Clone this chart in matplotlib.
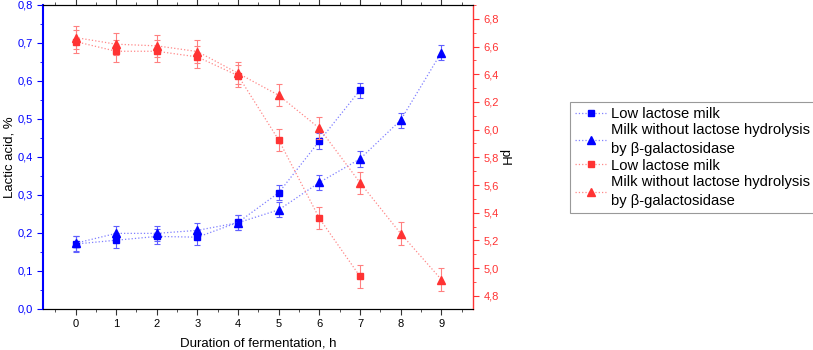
import numpy as np
import matplotlib.pyplot as plt
from matplotlib.ticker import MultipleLocator, FuncFormatter

plt.rcParams['font.family'] = ['Liberation Sans', 'DejaVu Sans']

# lactic acid, %
hours_low = [0, 1, 2, 3, 4, 5, 6, 7]
lactic_low = [0.171, 0.181, 0.191, 0.189, 0.228, 0.306, 0.442, 0.576]
hours_full = [0, 1, 2, 3, 4, 5, 6, 7, 8, 9]
lactic_full = [0.173, 0.199, 0.199, 0.207, 0.227, 0.261, 0.333, 0.395, 0.497, 0.675]
lactic_err = 0.02

# pH
ph_low = [6.636, 6.566, 6.566, 6.525, 6.39, 5.925, 5.36, 4.94]
ph_full = [6.665, 6.617, 6.605, 6.564, 6.407, 6.248, 6.01, 5.617, 5.25, 4.918]
ph_err = 0.08

labels = ["Low lactose milk",
          "Milk without lactose hydrolysis\nby \u03b2-galactosidase"]

blue = "#0000ff"
red = "#ff3333"

fig = plt.figure(figsize=(8.13, 3.5), dpi=100)
ax = fig.add_axes([43 / 813, 41 / 350, 430 / 813, 304 / 350])
ax2 = ax.twinx()

def comma(v, pos):
    return f"{v:.1f}".replace(".", ",")

line_kw = dict(ls=":", lw=0.9, capsize=2.5, elinewidth=0.8, capthick=0.8)
h1 = ax.errorbar(hours_low, lactic_low, yerr=lactic_err, color=blue, marker="s", ms=5,
                 ecolor="#6060ff", **line_kw)
h2 = ax.errorbar(hours_full, lactic_full, yerr=lactic_err, color=blue, marker="^", ms=6,
                 ecolor="#6060ff", **line_kw)
h3 = ax2.errorbar(hours_low, ph_low, yerr=ph_err, color=red, marker="s", ms=5,
                  ecolor="#ff8080", **line_kw)
h4 = ax2.errorbar(hours_full, ph_full, yerr=ph_err, color=red, marker="^", ms=6,
                  ecolor="#ff8080", **line_kw)
for h, c, mc in [(h1, "#8080ff", blue), (h2, "#8080ff", blue),
                 (h3, "#ff8888", red), (h4, "#ff8888", red)]:
    h.lines[0].set_color(c)
    h.lines[0].set_markerfacecolor(mc)
    h.lines[0].set_markeredgecolor(mc)

ax.set_xlim(-0.8, 9.78)
ax.set_ylim(0, 0.8)
ax2.set_ylim(4.705, 6.9)

ax.xaxis.set_major_locator(MultipleLocator(1))
ax.xaxis.set_minor_locator(MultipleLocator(0.5))
ax.yaxis.set_major_locator(MultipleLocator(0.1))
ax.yaxis.set_minor_locator(MultipleLocator(0.05))
ax2.yaxis.set_major_locator(MultipleLocator(0.2))
ax2.yaxis.set_minor_locator(MultipleLocator(0.1))
ax.yaxis.set_major_formatter(FuncFormatter(comma))
ax2.yaxis.set_major_formatter(FuncFormatter(comma))

ax.tick_params(axis="x", which="both", top=True, labelsize=8, color="#333333")
ax.tick_params(axis="x", which="major", length=4)
ax.tick_params(axis="x", which="minor", length=2.5)
ax.tick_params(axis="y", which="both", colors=blue, labelsize=8)
ax.tick_params(axis="y", which="major", length=4)
ax.tick_params(axis="y", which="minor", length=2.5)
ax2.tick_params(axis="y", which="both", colors=red, labelsize=8)
ax2.tick_params(axis="y", which="major", length=4)
ax2.tick_params(axis="y", which="minor", length=2.5)

ax.spines["left"].set_color(blue)
ax.spines["left"].set_linewidth(1.5)
ax2.spines["left"].set_visible(False)
ax2.spines["right"].set_color(red)
ax2.spines["right"].set_linewidth(1.0)
ax.spines["right"].set_visible(False)

ax.set_xlabel("Duration of fermentation, h", fontsize=9.5, labelpad=6)
ax.set_ylabel("Lactic acid, %", fontsize=9.5, labelpad=1)
ax2.set_ylabel("pH", fontsize=9.5, rotation=270, labelpad=8)

handles = [h.lines[0] for h in (h1, h2, h3, h4)]
leg = fig.legend(handles, labels + labels, loc="upper left",
                 bbox_to_anchor=(570 / 813, 1 - 102 / 350), fontsize=10.6,
                 frameon=True, fancybox=False, edgecolor="#808080",
                 handlelength=2.1, handletextpad=0.35, labelspacing=0.15,
                 borderpad=0.35, borderaxespad=0)
for t in leg.get_texts():
    t.set_linespacing(1.45)
leg.get_frame().set_linewidth(0.8)

fig.savefig("out.png", dpi=100)
